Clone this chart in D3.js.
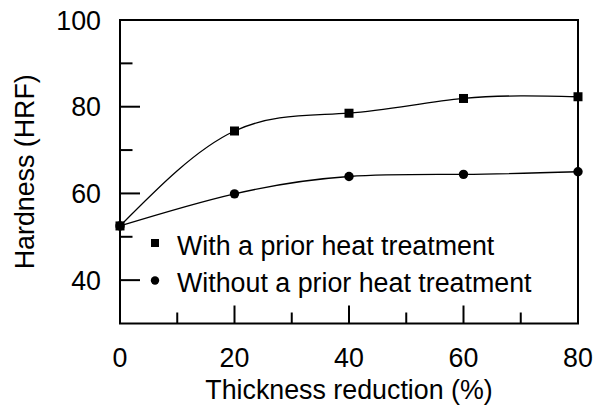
<!DOCTYPE html>
<html>
<head>
<meta charset="utf-8">
<script src="https://cdn.jsdelivr.net/npm/d3@7"></script>
<style>
  html, body { margin: 0; padding: 0; background: #fff; }
  svg { display: block; font-family: "Liberation Sans", Arial, sans-serif; }
</style>
</head>
<body>
<svg id="chart" width="603" height="406"></svg>
<script>
// Thickness reduction (%) and measured hardness (HRF)
const reduction = [0, 20, 40, 60, 80];
const withHeat = [52.5, 74.4, 78.5, 81.9, 82.3];
const withoutHeat = [52.5, 59.9, 63.9, 64.4, 65.0];
const xTicks = [0, 20, 40, 60, 80];
const xMinor = [10, 30, 50, 70];
const yTicks = [40, 60, 80, 100];
const yMinor = [50, 70, 90];
const seriesNames = ["With a prior heat treatment", "Without a prior heat treatment"];

const svg = d3.select("#chart");
const x = d3.scaleLinear().domain([0, 80]).range([120, 578]);
const y = d3.scaleLinear().domain([30, 100]).range([323.5, 20]);

const fontSize = 26.8;

// Frame
svg.append("rect")
  .attr("x", x(0)).attr("y", y(100))
  .attr("width", x(80) - x(0)).attr("height", y(30) - y(100))
  .attr("fill", "none").attr("stroke", "#000").attr("stroke-width", 2);

// Inward ticks on the bottom axis
const bottom = svg.append("g");
bottom.selectAll("line.maj").data(xTicks).join("line")
  .attr("x1", d => x(d)).attr("x2", d => x(d))
  .attr("y1", y(30)).attr("y2", y(30) - 18)
  .attr("stroke", "#000").attr("stroke-width", 2);
bottom.selectAll("line.min").data(xMinor).join("line")
  .attr("x1", d => x(d)).attr("x2", d => x(d))
  .attr("y1", y(30)).attr("y2", y(30) - 11)
  .attr("stroke", "#000").attr("stroke-width", 2);
bottom.selectAll("text").data(xTicks).join("text")
  .attr("x", d => x(d)).attr("y", 367)
  .attr("text-anchor", "middle").attr("font-size", fontSize)
  .text(d => d);

// Inward ticks on the left axis
const left = svg.append("g");
left.selectAll("line.maj").data(yTicks).join("line")
  .attr("x1", x(0)).attr("x2", x(0) + 20)
  .attr("y1", d => y(d)).attr("y2", d => y(d))
  .attr("stroke", "#000").attr("stroke-width", 2);
left.selectAll("line.min").data(yMinor).join("line")
  .attr("x1", x(0)).attr("x2", x(0) + 12.5)
  .attr("y1", d => y(d)).attr("y2", d => y(d))
  .attr("stroke", "#000").attr("stroke-width", 2);
left.selectAll("text").data(yTicks).join("text")
  .attr("x", 101).attr("y", d => y(d))
  .attr("dy", "0.36em")
  .attr("text-anchor", "end").attr("font-size", fontSize)
  .text(d => d);

// Axis titles
svg.append("text")
  .attr("x", (x(0) + x(80)) / 2).attr("y", 399)
  .attr("text-anchor", "middle").attr("font-size", fontSize)
  .text("Thickness reduction (%)");
svg.append("text")
  .attr("transform", `translate(34,${(y(30) + y(100)) / 2}) rotate(-90)`)
  .attr("text-anchor", "middle").attr("font-size", fontSize)
  .text("Hardness (HRF)");

// Smoothed curves through the measurements
const line = d3.line()
  .x(d => x(d[0])).y(d => y(d[1]))
  .curve(d3.curveNatural);
const withPts = reduction.map((r, i) => [r, withHeat[i]]);
const withoutPts = reduction.map((r, i) => [r, withoutHeat[i]]);

svg.append("path").datum(withPts).attr("d", line)
  .attr("fill", "none").attr("stroke", "#000").attr("stroke-width", 1.3);
svg.append("path").datum(withoutPts).attr("d", line)
  .attr("fill", "none").attr("stroke", "#000").attr("stroke-width", 1.3);

const sq = 9;
svg.selectAll("rect.pt").data(withPts).join("rect")
  .attr("class", "pt")
  .attr("x", d => x(d[0]) - sq / 2).attr("y", d => y(d[1]) - sq / 2)
  .attr("width", sq).attr("height", sq).attr("fill", "#000");
svg.selectAll("circle.pt").data(withoutPts).join("circle")
  .attr("class", "pt")
  .attr("cx", d => x(d[0])).attr("cy", d => y(d[1]))
  .attr("r", 4.7).attr("fill", "#000");

// Legend
const legend = svg.append("g");
legend.append("rect").attr("x", 151).attr("y", 239).attr("width", 8).attr("height", 8).attr("fill", "#000");
legend.append("circle").attr("cx", 155).attr("cy", 280.5).attr("r", 4.2).attr("fill", "#000");
legend.selectAll("text").data(seriesNames).join("text")
  .attr("x", 177).attr("y", (d, i) => 255 + i * 37)
  .attr("font-size", fontSize)
  .text(d => d);
</script>
</body>
</html>
